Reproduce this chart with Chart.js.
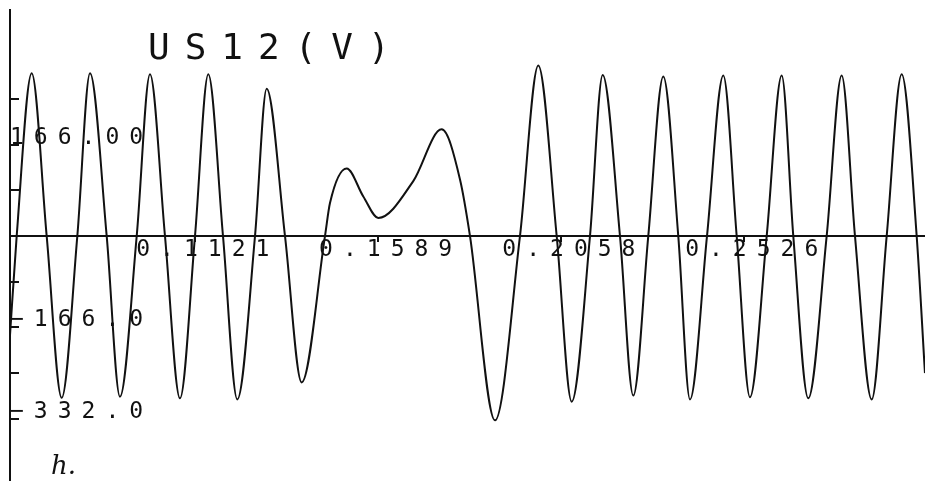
<!DOCTYPE html>
<html lang="fr">
<head>
<meta charset="utf-8">
<title>US12(V)</title>
<script src="https://cdn.jsdelivr.net/npm/chart.js@4.4.1/dist/chart.umd.min.js"></script>
<style>
  html, body { margin: 0; padding: 0; background: #fff; }
  #wrap { position: relative; width: 925px; height: 481px; overflow: hidden; }
  #scope { display: block; }
  .titre { position: absolute; left: 148px; top: 29px; font: 36px/36px "DejaVu Sans Mono", monospace; letter-spacing: 15px; color: #111; white-space: nowrap; }
  .note { position: absolute; left: 51px; top: 452px; font: italic 26px/26px "DejaVu Serif", serif; color: #111; }
</style>
</head>
<body>
<div id="wrap">
  <canvas id="scope" width="925" height="481"></canvas>
  <div class="titre">US12(V)</div>
  <div class="note">h.</div>
</div>
<script>
// Points: zero crossings, peaks and troughs (s, V)
const times = [0.0648, 0.06651, 0.07035, 0.07419, 0.07803, 0.08203, 0.08528, 0.08955, 0.09295, 0.09723,
  0.10063, 0.10447, 0.10831, 0.11215, 0.11555, 0.11932, 0.12298, 0.12751, 0.13050, 0.13519,
  0.13946, 0.14542, 0.14670, 0.15098, 0.15523, 0.15907, 0.16802, 0.17529, 0.17998, 0.18254,
  0.18894, 0.19533, 0.20002, 0.20473, 0.20857, 0.21325, 0.21650, 0.22093, 0.22433, 0.22817,
  0.23201, 0.23585, 0.23885, 0.24320, 0.24737, 0.25080, 0.25420, 0.25848, 0.26232, 0.26529,
  0.26912, 0.27383, 0.27767, 0.28108, 0.28535, 0.28919, 0.29303, 0.29687, 0.29899];
const us12 = [-180, 0, 296, 0, -294, 0, 296, 0, -292, 0,
  294, 0, -295, 0, 294, 0, -297, 0, 268, 0,
  -266, 0, 60, 123, 72, 33, 100, 194, 103, 0,
  -335, 0, 310, 0, -301, 0, 293, 0, -290, 0,
  290, 0, -297, 0, 292, 0, -293, 0, 292, 0,
  -295, 0, 292, 0, -297, 0, 294, 0, -249];

// Axes
const xMin = 0.0648;
const xMax = 0.2990;
const xTicks = [0.1121, 0.1589, 0.2058, 0.2526];
const yMin = -445;
const yMax = 411;
const yTicks = [-332, -249, -166, -83, 0, 83, 166, 249];
const yLabelValues = [166, -166, -332];
const yLabelTexts = ['166.00', '−166.0', '−332.0'];

// Wide plotter lettering for every text drawn by the chart
const plotterText = {
  id: 'plotterText',
  beforeDraw(chart) {
    chart.ctx.letterSpacing = '10px';
  }
};

document.addEventListener('DOMContentLoaded', function() {
  const ctx = document.getElementById('scope').getContext('2d');
  const ink = '#111';

  new Chart(ctx, {
    type: 'line',
    data: {
      datasets: [{
        label: 'US12(V)',
        data: times.map((t, i) => ({ x: t, y: us12[i] })),
        borderColor: ink,
        borderWidth: 2,
        pointRadius: 0,
        fill: false,
        cubicInterpolationMode: 'monotone'
      }]
    },
    options: {
      responsive: false,
      animation: false,
      layout: { padding: { left: 10, top: 10, right: 0, bottom: 0 } },
      plugins: {
        legend: { display: false },
        tooltip: { enabled: false }
      },
      scales: {
        x: {
          type: 'linear',
          position: { y: 0 },
          min: xMin,
          max: xMax,
          afterBuildTicks: axis => { axis.ticks = xTicks.map(v => ({ value: v })); },
          ticks: {
            color: ink,
            font: { family: 'DejaVu Sans Mono', size: 23 },
            padding: -5,
            labelOffset: 13,
            maxRotation: 0,
            autoSkip: false,
            callback: v => v.toFixed(4)
          },
          grid: { drawOnChartArea: false, tickLength: 5, color: ink, lineWidth: 2 },
          border: { color: ink, width: 2 }
        },
        y: {
          min: yMin,
          max: yMax,
          afterBuildTicks: axis => { axis.ticks = yTicks.map(v => ({ value: v })); },
          ticks: {
            color: ink,
            // tiny line height so the mirrored labels add no padding to the plot area
            font: { family: 'DejaVu Sans Mono', size: 23, lineHeight: 0.01 },
            mirror: true,
            padding: 0,
            labelOffset: -7,
            callback: v => {
              const k = yLabelValues.indexOf(v);
              return k >= 0 ? yLabelTexts[k] : '';
            }
          },
          // short inward tick marks: grid lines cut by a dash pattern
          grid: { drawTicks: false, color: ink, lineWidth: 2 },
          border: { color: ink, width: 2, dash: [8, 3000] }
        }
      }
    },
    plugins: [plotterText]
  });
});
</script>
</body>
</html>
